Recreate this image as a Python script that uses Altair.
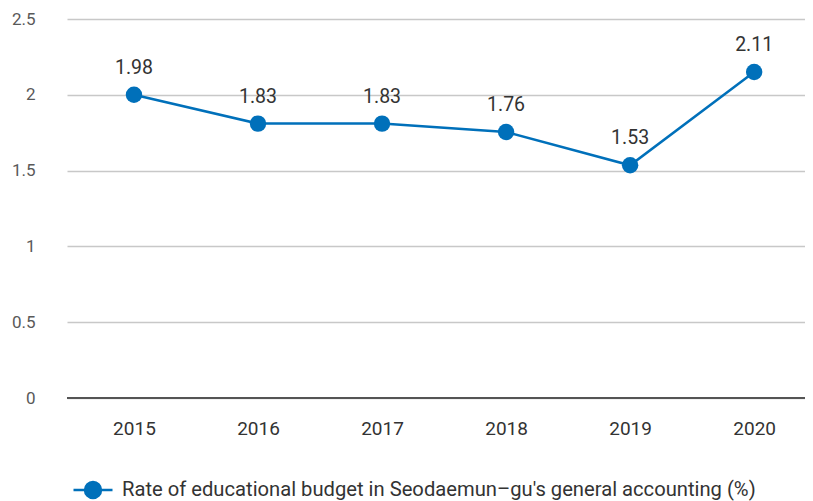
import altair as alt
import pandas as pd

years = [2015, 2016, 2017, 2018, 2019, 2020]
plotted = [2.0, 1.81, 1.81, 1.755, 1.535, 2.15]
labels = ["1.98", "1.83", "1.83", "1.76", "1.53", "2.11"]
series = "Rate of educational budget in Seodaemun\u2013gu's general accounting (%)"
y_ticks = [0, 0.5, 1, 1.5, 2, 2.5]

df = pd.DataFrame({"year": years, "value": plotted, "label": labels, "series": [series] * len(years)})
df0 = pd.DataFrame({"value": [0]})

BLUE = "#0070BA"
FONT = "Roboto"

xscale = alt.Scale(domain=[2014.46, 2020.41], nice=False, zero=False)
yscale = alt.Scale(domain=[0, 2.5], nice=False)

xenc = alt.X("year:Q", scale=xscale,
             axis=alt.Axis(values=years, format="d", title=None, grid=False, domain=False, ticks=False,
                           labelFont=FONT, labelFontSize=19, labelFontWeight=400,
                           labelColor="#333333", labelPadding=21))
yenc = alt.Y("value:Q", scale=yscale,
             axis=alt.Axis(values=y_ticks, format="~g", title=None, grid=True, gridColor="#c8c8c8",
                           gridWidth=1.5, domain=False, ticks=False, labelFont=FONT, labelFontSize=17,
                           labelFontWeight=400, labelColor="#595959", labelPadding=32))

legend_symbol = "M-1,0 L1,0 M-0.41,0 A0.41,0.41 0 1,0 0.41,0 A0.41,0.41 0 1,0 -0.41,0 Z"

color = alt.Color("series:N", scale=alt.Scale(range=[BLUE]),
                  legend=alt.Legend(title=None, orient="none", legendX=5, legendY=450,
                                    symbolType=legend_symbol, symbolSize=1521,
                                    symbolStrokeColor=BLUE, symbolStrokeWidth=2.5,
                                    symbolFillColor=BLUE, symbolOpacity=1,
                                    labelFont=FONT, labelFontSize=20.2, labelFontWeight=400,
                                    labelColor="#333333", labelLimit=800, labelOffset=8))

base = alt.Chart(df)

line = base.mark_line(strokeWidth=2.5).encode(x=xenc, y=yenc, color=color)
points = base.mark_point(filled=True, size=270, opacity=1).encode(
    x=xenc, y=yenc, color=color)
text = base.mark_text(font=FONT, fontSize=19.5, fontWeight=400, color="#333333", dy=-21,
                      baseline="alphabetic").encode(x=xenc, y=yenc, text="label:N")
baseline = alt.Chart(df0).mark_rule(color="#555555", strokeWidth=2).encode(y=yenc)

chart = alt.layer(line, baseline, points, text).properties(
    width=738, height=379,
    padding={"left": 59, "top": 11, "right": 0, "bottom": 115},
    autosize=alt.AutoSizeParams(type="none"),
    background="white",
).configure_view(stroke=None).configure_axis(domain=False, ticks=False)

chart.save("out.html", embed_options={"renderer": "svg", "actions": False})
